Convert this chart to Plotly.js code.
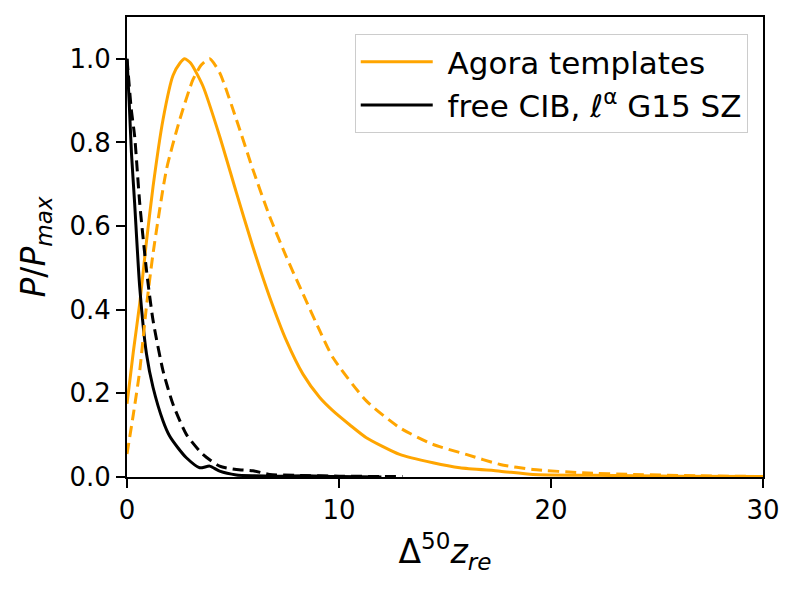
<!DOCTYPE html>
<html>
<head>
<meta charset="utf-8">
<script src="https://cdn.plot.ly/plotly-3.0.1.min.js"></script>
<style>
  html, body { margin: 0; padding: 0; background: #fff; }
  #plot { width: 800px; height: 594px; }
</style>
</head>
<body>
<div id="plot"></div>
<script>
// Agora templates (orange), solid and dashed
const agoraSolidX = [0, 0.3, 0.6, 0.9, 1.23, 1.7, 2.17, 2.5, 2.72, 3.0, 3.58, 4.37, 5.16, 5.94, 6.73, 7.52, 8.3, 9.09, 9.72, 10.5, 11.29, 12.86, 14.43, 15.7, 17.6, 19.15, 22, 26, 30];
const agoraSolidY = [0.175, 0.3, 0.415, 0.555, 0.695, 0.855, 0.96, 0.99, 1.0, 0.99, 0.935, 0.815, 0.68, 0.55, 0.43, 0.326, 0.246, 0.19, 0.158, 0.125, 0.094, 0.054, 0.034, 0.022, 0.014, 0.006, 0.004, 0.002, 0.001];

const agoraDashX = [0, 0.3, 0.6, 0.9, 1.23, 1.86, 2.49, 3.11, 3.5, 3.9, 4.37, 5.16, 5.94, 6.73, 7.52, 8.3, 9.09, 9.72, 11.29, 12.86, 14.43, 16.0, 17.6, 19.15, 21.5, 23.9, 27, 30];
const agoraDashY = [0.055, 0.15, 0.254, 0.4, 0.535, 0.735, 0.855, 0.95, 0.985, 1.0, 0.967, 0.855, 0.735, 0.623, 0.526, 0.438, 0.35, 0.285, 0.182, 0.118, 0.078, 0.054, 0.03, 0.018, 0.01, 0.006, 0.003, 0.001];

// free CIB, l^alpha G15 SZ (black), solid and dashed
const freeSolidX = [0, 0.1, 0.21, 0.36, 0.6, 0.92, 1.23, 1.7, 2.01, 2.4, 2.8, 3.43, 3.9, 4.37, 5.16, 6, 7, 8.5, 10, 12];
const freeSolidY = [1.0, 0.9, 0.775, 0.655, 0.454, 0.294, 0.214, 0.134, 0.098, 0.07, 0.046, 0.022, 0.026, 0.014, 0.005, 0.003, 0.002, 0.003, 0.001, 0];

const freeDashX = [0, 0.05, 0.2, 0.36, 0.6, 0.92, 1.23, 1.7, 2.17, 2.8, 3.58, 4.37, 5.16, 5.94, 6.73, 8, 10, 13];
const freeDashY = [1.0, 0.97, 0.88, 0.815, 0.655, 0.494, 0.374, 0.254, 0.174, 0.102, 0.054, 0.026, 0.018, 0.015, 0.006, 0.004, 0.002, 0.001];

const xTicks = [0, 10, 20, 30];
const yTicks = [0, 0.2, 0.4, 0.6, 0.8, 1.0];

const orange = "#ffa500";
const font = "DejaVu Sans, sans-serif";

function line(x, y, color, dash, name, show) {
  return {
    type: "scatter",
    mode: "lines",
    x: x,
    y: y,
    name: name,
    showlegend: show,
    line: { color: color, width: 3, dash: dash, shape: "spline", smoothing: 0.6 },
    hoverinfo: "skip",
  };
}

// leading nbsp widens the gap between legend line and label
const data = [
  line(agoraSolidX, agoraSolidY, orange, "solid", "\u00a0Agora templates", true),
  line(freeSolidX, freeSolidY, "#000000", "solid", "\u00a0free CIB, <i>ℓ</i><sup>α</sup> G15 SZ", true),
  line(agoraDashX, agoraDashY, orange, "11px,6px", "", false),
  line(freeDashX, freeDashY, "#000000", "11px,6px", "", false),
];

const axisCommon = {
  showline: true,
  mirror: true,
  linecolor: "#000",
  linewidth: 2,
  ticks: "outside",
  ticklen: 9,
  tickwidth: 2,
  tickcolor: "#000",
  showgrid: false,
  zeroline: false,
  tickfont: { family: font, size: 26, color: "#000" },
};

const layout = {
  width: 800,
  height: 594,
  margin: { l: 127, r: 37, t: 17, b: 117 },
  paper_bgcolor: "#fff",
  plot_bgcolor: "#fff",
  showlegend: true,
  xaxis: Object.assign({}, axisCommon, {
    range: [0, 30],
    tickvals: xTicks,
    ticktext: xTicks.map(String),
    title: { text: "Δ<sup>50</sup><i>z</i><sub><i>re</i></sub>", font: { family: font, size: 33, color: "#000" }, standoff: 16 },
  }),
  yaxis: Object.assign({}, axisCommon, {
    range: [0, 1.1],
    tickvals: yTicks,
    ticktext: yTicks.map((v) => v.toFixed(1)),
    title: { text: "<i>P</i>/<i>P</i><sub><i>max</i></sub>", font: { family: font, size: 33, color: "#000" }, standoff: 14 },
  }),
  legend: {
    x: 0.976,
    y: 0.963,
    xanchor: "right",
    yanchor: "top",
    bgcolor: "rgba(255,255,255,0.8)",
    bordercolor: "#cccccc",
    borderwidth: 1,
    itemwidth: 72,
    font: { family: font, size: 31, color: "#000" },
    tracegroupgap: 0,
  },
};

Plotly.newPlot("plot", data, layout, { staticPlot: true });
</script>
</body>
</html>
